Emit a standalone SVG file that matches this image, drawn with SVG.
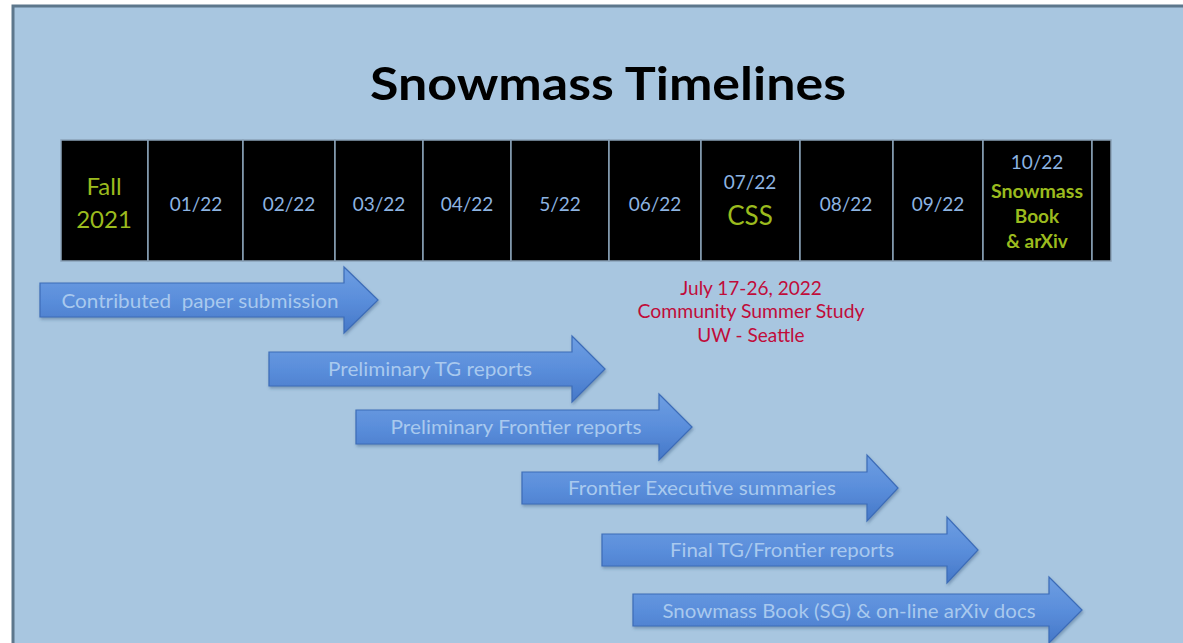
<svg xmlns="http://www.w3.org/2000/svg" width="1183" height="643" viewBox="0 0 1183 643">
<defs>
<linearGradient id="ag" x1="0" y1="0" x2="0" y2="1">
<stop offset="0" stop-color="#6E9EE2"/>
<stop offset="0.5" stop-color="#5A8EDB"/>
<stop offset="1" stop-color="#4678C8"/>
</linearGradient>
<filter id="sh" x="-5%" y="-20%" width="110%" height="150%">
<feDropShadow dx="1" dy="2" stdDeviation="1.5" flood-color="#3a5a80" flood-opacity="0.45"/>
</filter>
</defs>
<style>
text{font-family:Lato,"Open Sans","Liberation Sans",sans-serif}
.cell{fill:#000;stroke:#8aa2b8;stroke-width:1.5}
.m{fill:#8DB4E2;font-size:19px;text-anchor:middle}
.g{fill:#9BBB1E;text-anchor:middle}
.arr{fill:url(#ag);stroke:#3C6CB8;stroke-width:1.2;filter:url(#sh)}
.at{fill:#A9C9EE;font-size:19px;text-anchor:middle}
.r{fill:#C00C3A;font-size:19px;text-anchor:middle}
</style>
<rect x="0" y="0" width="1183" height="643" fill="#fff"/>
<rect x="13" y="6" width="1185" height="650" fill="#A8C6E0" stroke="#5D778C" stroke-width="3"/>
<g id="title"><text x="608" y="100" font-size="46" font-weight="bold" fill="#000" text-anchor="middle" textLength="476" lengthAdjust="spacingAndGlyphs">Snowmass Timelines</text></g>
<g id="header">
<rect class="cell" x="61" y="140" width="87" height="121"/>
<rect class="cell" x="148" y="140" width="95" height="121"/>
<rect class="cell" x="243" y="140" width="92" height="121"/>
<rect class="cell" x="335" y="140" width="88" height="121"/>
<rect class="cell" x="423" y="140" width="88" height="121"/>
<rect class="cell" x="511" y="140" width="98" height="121"/>
<rect class="cell" x="609" y="140" width="92" height="121"/>
<rect class="cell" x="701" y="140" width="99" height="121"/>
<rect class="cell" x="800" y="140" width="93" height="121"/>
<rect class="cell" x="893" y="140" width="90" height="121"/>
<rect class="cell" x="983" y="140" width="109" height="121"/>
<rect class="cell" x="1092" y="140" width="19" height="121"/>
<text class="g" x="104" y="195" font-size="24">Fall</text>
<text class="g" x="104" y="228" font-size="24">2021</text>
<text class="m" x="196" y="211">01/22</text>
<text class="m" x="289" y="211">02/22</text>
<text class="m" x="379" y="211">03/22</text>
<text class="m" x="467" y="211">04/22</text>
<text class="m" x="560" y="211">5/22</text>
<text class="m" x="655" y="211">06/22</text>
<text class="m" x="750" y="189">07/22</text>
<text class="g" x="750" y="225" font-size="26">CSS</text>
<text class="m" x="846" y="211">08/22</text>
<text class="m" x="938" y="211">09/22</text>
<text class="m" x="1037" y="169">10/22</text>
<text class="g" x="1037" y="198" font-size="19" font-weight="bold" textLength="92" lengthAdjust="spacingAndGlyphs">Snowmass</text>
<text class="g" x="1037" y="223" font-size="19" font-weight="bold">Book</text>
<text class="g" x="1037" y="248" font-size="19" font-weight="bold">&amp; arXiv</text>
</g>
<g id="css-note">
<text class="r" x="751" y="295">July 17-26, 2022</text>
<text class="r" x="751" y="318" textLength="227" lengthAdjust="spacingAndGlyphs">Community Summer Study</text>
<text class="r" x="751" y="342">UW - Seattle</text>
</g>
<g id="connectors">
<g id="a1"><path class="arr" d="M40,283 H344 V267 L378,300 L344,333 V317 H40 Z"/><text class="at" x="200" y="308" xml:space="preserve" textLength="277" lengthAdjust="spacingAndGlyphs">Contributed  paper submission</text></g>
<g id="a2"><path class="arr" d="M269,352 H572 V336 L605,369 L572,402 V386 H269 Z"/><text class="at" x="430" y="376" textLength="204" lengthAdjust="spacingAndGlyphs">Preliminary TG reports</text></g>
<g id="a3"><path class="arr" d="M356,410 H659 V394 L692,427 L659,460 V444 H356 Z"/><text class="at" x="516" y="434" textLength="251" lengthAdjust="spacingAndGlyphs">Preliminary Frontier reports</text></g>
<g id="a4"><path class="arr" d="M522,472 H867 V455 L898,488 L867,521 V504 H522 Z"/><text class="at" x="702" y="495" textLength="268" lengthAdjust="spacingAndGlyphs">Frontier Executive summaries</text></g>
<g id="a5"><path class="arr" d="M602,534 H947 V517 L978,550 L947,583 V566 H602 Z"/><text class="at" x="782" y="557" textLength="224" lengthAdjust="spacingAndGlyphs">Final TG/Frontier reports</text></g>
<g id="a6"><path class="arr" d="M633,594 H1049 V577 L1082,610 L1049,643 V626 H633 Z"/><text class="at" x="849" y="618" textLength="373" lengthAdjust="spacingAndGlyphs">Snowmass Book (SG) &amp; on-line arXiv docs</text></g>
</g>
</svg>
